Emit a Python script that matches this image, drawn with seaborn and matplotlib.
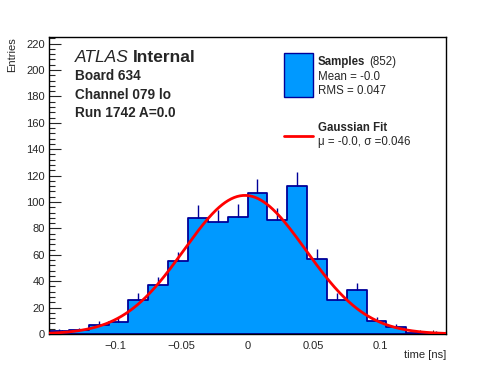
import numpy as np
import pandas as pd
import matplotlib
matplotlib.use("Agg")
import matplotlib.pyplot as plt
import seaborn as sns
from matplotlib.ticker import MultipleLocator

# ---- data ----
bin_edges = [round(-0.15 + 0.015 * i, 4) for i in range(21)]
counts = [2, 3, 7, 9, 26, 37, 55, 88, 85, 89, 107, 86, 112, 57, 26, 33, 10, 5, 1, 1]
fit_amp = 105.0
fit_mu = -0.002
fit_sigma = 0.046
x_ticks = [-0.1, -0.05, 0, 0.05, 0.1]
x_tick_labels = ["\u22120.1", "\u22120.05", "0", "0.05", "0.1"]
y_ticks = list(range(0, 221, 20))

centers = [(bin_edges[i] + bin_edges[i + 1]) / 2 for i in range(len(counts))]
df = pd.DataFrame({"time": centers, "n": counts})

sns.set_style("ticks")
plt.rcParams["font.family"] = ["Liberation Sans", "DejaVu Sans"]

W, H = 496, 372
fig = plt.figure(figsize=(W / 100, H / 100), dpi=100)
L, R, T, B = 49, 446, 37, 334
ax = fig.add_axes([L / W, 1 - B / H, (R - L) / W, (B - T) / H])

fill_c = "#0099ff"
edge_c = "#000099"

# error bars (upper halves visible above the bars)
ax.vlines(centers, counts, [c + np.sqrt(c) for c in counts], color=edge_c, lw=1.0, zorder=3)

sns.histplot(data=df, x="time", weights="n", bins=bin_edges, element="step",
             fill=True, color=fill_c, alpha=1.0, edgecolor=edge_c, linewidth=1.3,
             ax=ax, zorder=2)

xf = np.linspace(-0.15, 0.15, 400)
yf = fit_amp * np.exp(-0.5 * ((xf - fit_mu) / fit_sigma) ** 2)
sns.lineplot(x=xf, y=yf, color="#ff0000", lw=2.0, ax=ax, zorder=4)

ax.set_xlim(-0.15, 0.15)
ax.set_ylim(0, 225)
ax.set_xticks(x_ticks)
ax.set_xticklabels(x_tick_labels)
ax.set_yticks(y_ticks)
ax.xaxis.set_minor_locator(MultipleLocator(0.01))
ax.yaxis.set_minor_locator(MultipleLocator(4))
ax.tick_params(axis="x", which="major", direction="in", length=6, width=0.8, labelsize=8, pad=5)
ax.tick_params(axis="x", which="minor", direction="in", length=3, width=0.8)
ax.tick_params(axis="y", which="major", direction="in", length=8.5, width=0.8, labelsize=8, pad=3)
ax.tick_params(axis="y", which="minor", direction="in", length=4.3, width=0.8)
for s in ax.spines.values():
    s.set_visible(True)
    s.set_linewidth(1.0)
    s.set_color("black")
ax.set_xlabel("")
ax.set_ylabel("")
ax.grid(False)

def fx(px):
    return px / W

def fy(py):
    return 1 - py / H

fig.text(fx(446), fy(355), "time [ns]", ha="right", va="center", fontsize=8)
fig.text(fx(12), fy(37), "Entries", ha="center", va="top", rotation=90, fontsize=8)

fig.text(fx(75), fy(57), "ATLAS", ha="left", va="center", fontsize=12.5, style="italic")
fig.text(fx(133), fy(57), "Internal", ha="left", va="center", fontsize=12.5, weight="bold")
fig.text(fx(75), fy(76), "Board 634", ha="left", va="center", fontsize=9.8, weight="bold")
fig.text(fx(75), fy(95), "Channel 079 lo", ha="left", va="center", fontsize=9.8, weight="bold")
fig.text(fx(75), fy(113), "Run 1742 A=0.0", ha="left", va="center", fontsize=9.8, weight="bold")

# legend
from matplotlib.patches import Rectangle
from matplotlib.lines import Line2D
fig.patches.append(Rectangle((fx(284), fy(97)), (313 - 284) / W, (97 - 53) / H,
                             transform=fig.transFigure, facecolor=fill_c, edgecolor=edge_c, lw=1.0))
fig.lines.append(Line2D([fx(284), fx(313)], [fy(136), fy(136)], transform=fig.transFigure,
                        color="#ff0000", lw=2.0))
fig.text(fx(318), fy(62), "Samples", ha="left", va="center", fontsize=8.3, weight="bold")
fig.text(fx(369), fy(62), "(852)", ha="left", va="center", fontsize=8.3)
fig.text(fx(318), fy(77), "Mean = -0.0", ha="left", va="center", fontsize=8.3)
fig.text(fx(318), fy(91), "RMS = 0.047", ha="left", va="center", fontsize=8.3)
fig.text(fx(318), fy(128), "Gaussian Fit", ha="left", va="center", fontsize=8.3, weight="bold")
fig.text(fx(318), fy(142), "\u03bc = -0.0, \u03c3 =0.046", ha="left", va="center", fontsize=8.3)

fig.savefig("out.png", dpi=100)
